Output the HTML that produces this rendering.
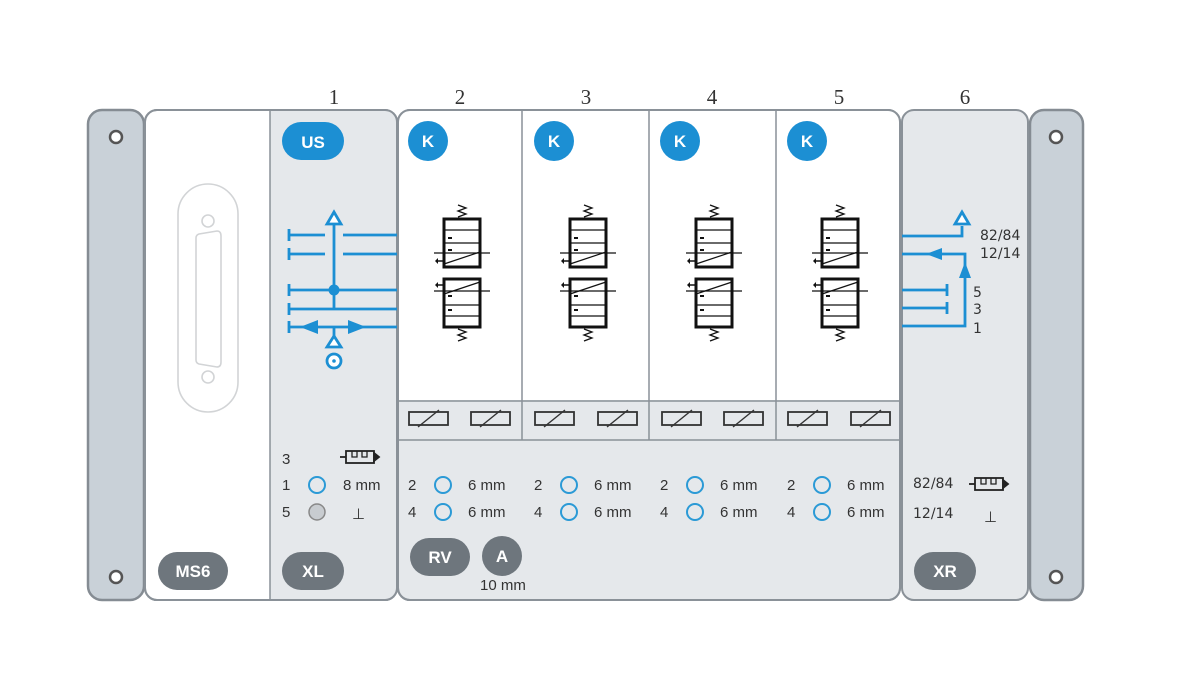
<!DOCTYPE html>
<html><head><meta charset="utf-8"><style>
html,body{margin:0;padding:0;background:#fff;}
svg{display:block;}
text{font-family:"Liberation Sans",sans-serif;}
</style></head><body>
<svg width="1181" height="700" viewBox="0 0 1181 700" xmlns="http://www.w3.org/2000/svg">
<defs>
<g id="valve" fill="none" stroke="#111">
  <rect x="-18" y="219" width="36" height="48" stroke-width="3"/>
  <line x1="-18" y1="230" x2="18" y2="230" stroke-width="1.2"/>
  <line x1="-18" y1="243" x2="18" y2="243" stroke-width="1.2"/>
  <line x1="-18" y1="264" x2="18" y2="252" stroke-width="1.2"/>
  <line x1="-28" y1="253" x2="28" y2="253" stroke-width="1.2"/>
  <path d="M-14 238h4M-14 250h4" stroke-width="2"/>
  <path d="M-26 261h8" stroke-width="1.5"/><path d="M-27 261l3-3v6z" fill="#111" stroke="none"/>
  <path d="M-4 205l8 3-8 3 8 3-8 3" stroke-width="1.3"/>
  <rect x="-18" y="279" width="36" height="48" stroke-width="3"/>
  <line x1="-18" y1="305" x2="18" y2="305" stroke-width="1.2"/>
  <line x1="-18" y1="316" x2="18" y2="316" stroke-width="1.2"/>
  <line x1="-18" y1="294" x2="18" y2="282" stroke-width="1.2"/>
  <line x1="-28" y1="291" x2="28" y2="291" stroke-width="1.2"/>
  <path d="M-14 296h4M-14 310h4" stroke-width="2"/>
  <path d="M-26 285h8" stroke-width="1.5"/><path d="M-27 285l3-3v6z" fill="#111" stroke="none"/>
  <path d="M-4 329l8 3-8 3 8 3-8 3" stroke-width="1.3"/>
</g>
<g id="sol" fill="none" stroke="#333" stroke-width="1.8">
  <rect x="0" y="0" width="39" height="13"/>
  <path d="M9 15 L30 -2" stroke-width="1.4"/>
</g>
<g id="muff" fill="none" stroke="#222" stroke-width="1.8">
  <path d="M0 0h6"/><rect x="6" y="-6" width="28" height="12"/>
  <path d="M12 -6v6h5v-6M22 -6v6h5v-6" stroke-width="1.3"/>
  <path d="M34 -4l5 4-5 4z" fill="#222"/>
</g>
<circle id="port" r="8" fill="none" stroke="#2b9ad6" stroke-width="2"/>
</defs>

<!-- numbers -->
<g font-size="21" fill="#333" text-anchor="middle" font-family="Liberation Serif,serif">
<text x="334" y="104" style="font-family:'Liberation Serif',serif">1</text>
<text x="460" y="104" style="font-family:'Liberation Serif',serif">2</text>
<text x="586" y="104" style="font-family:'Liberation Serif',serif">3</text>
<text x="712" y="104" style="font-family:'Liberation Serif',serif">4</text>
<text x="839" y="104" style="font-family:'Liberation Serif',serif">5</text>
<text x="965" y="104" style="font-family:'Liberation Serif',serif">6</text>
</g>

<!-- end plates -->
<rect x="88" y="110" width="56" height="490" rx="14" fill="#c9d1d8" stroke="#858c93" stroke-width="2.5"/>
<circle cx="116" cy="137" r="6" fill="#fff" stroke="#555" stroke-width="2.5"/>
<circle cx="116" cy="577" r="6" fill="#fff" stroke="#555" stroke-width="2.5"/>
<rect x="1030" y="110" width="53" height="490" rx="14" fill="#c9d1d8" stroke="#858c93" stroke-width="2.5"/>
<circle cx="1056" cy="137" r="6" fill="#fff" stroke="#555" stroke-width="2.5"/>
<circle cx="1056" cy="577" r="6" fill="#fff" stroke="#555" stroke-width="2.5"/>

<!-- MS6 + panel 1 -->
<rect x="145" y="110" width="252" height="490" rx="12" fill="#fff" stroke="#8a9198" stroke-width="2"/>
<path d="M270 111 H385 Q396 111 396 122 V588 Q396 599 385 599 H270 Z" fill="#e5e8eb"/>
<line x1="270" y1="110" x2="270" y2="600" stroke="#8a9198" stroke-width="1.5"/>
<rect x="145" y="110" width="252" height="490" rx="12" fill="none" stroke="#8a9198" stroke-width="2"/>
<g fill="none" stroke="#d2d4d6" stroke-width="1.6">
<rect x="178" y="184" width="60" height="228" rx="30"/>
<circle cx="208" cy="221" r="6"/><circle cx="208" cy="377" r="6"/>
<path d="M199 234 L217 231 Q221 231 221 236 V362 Q221 367 217 367 L199 364 Q196 363 196 360 V238 Q196 235 199 234Z"/>
</g>

<!-- valve section -->
<rect x="398" y="110" width="502" height="490" rx="12" fill="#e5e8eb" stroke="#8a9198" stroke-width="2"/>
<path d="M399 122 Q399 111 410 111 H888 Q899 111 899 122 V400 H399Z" fill="#fff"/>
<line x1="398" y1="401" x2="900" y2="401" stroke="#8a9198" stroke-width="1.5"/>
<line x1="398" y1="440" x2="900" y2="440" stroke="#8a9198" stroke-width="1.5"/>
<g stroke="#8a9198" stroke-width="1.5">
<line x1="522" y1="111" x2="522" y2="440"/><line x1="649" y1="111" x2="649" y2="440"/><line x1="776" y1="111" x2="776" y2="440"/>
</g>
<rect x="398" y="110" width="502" height="490" rx="12" fill="none" stroke="#8a9198" stroke-width="2"/>

<!-- panel 6 -->
<rect x="902" y="110" width="126" height="490" rx="12" fill="#e5e8eb" stroke="#8a9198" stroke-width="2"/>

<!-- K badges and valves -->
<g>
<circle cx="428" cy="141" r="20" fill="#1c8fd3"/><circle cx="554" cy="141" r="20" fill="#1c8fd3"/>
<circle cx="680" cy="141" r="20" fill="#1c8fd3"/><circle cx="807" cy="141" r="20" fill="#1c8fd3"/>
<g fill="#fff" font-size="17" font-weight="bold" text-anchor="middle">
<text x="428" y="147">K</text><text x="554" y="147">K</text><text x="680" y="147">K</text><text x="807" y="147">K</text>
</g>
<use href="#valve" x="462"/><use href="#valve" x="588"/><use href="#valve" x="714"/><use href="#valve" x="840"/>
<use href="#sol" x="409" y="412"/><use href="#sol" x="471" y="412"/>
<use href="#sol" x="535" y="412"/><use href="#sol" x="598" y="412"/>
<use href="#sol" x="662" y="412"/><use href="#sol" x="724" y="412"/>
<use href="#sol" x="788" y="412"/><use href="#sol" x="851" y="412"/>
</g>

<!-- US badge -->
<rect x="282" y="122" width="62" height="38" rx="19" fill="#1c8fd3"/>
<text x="313" y="148" fill="#fff" font-size="17" font-weight="bold" text-anchor="middle">US</text>

<!-- blue panel 1 -->
<g stroke="#1c8fd3" stroke-width="2.8" fill="none">
<path d="M289 235H325M343 235H397M289 254H325M343 254H397M289 290H397M289 309H397M289 327H397"/>
<path d="M289 229v12M289 248v12M289 284v12M289 303v12M289 321v12"/>
<path d="M334 224V309"/>
<path d="M334 212l-7 12h14z" fill="#fff"/>
<path d="M334 327V336"/>
<path d="M334 336l-7 11h14z" fill="#fff"/>
<circle cx="334" cy="361" r="7" fill="#fff"/>
</g>
<circle cx="334" cy="361" r="1.8" fill="#1c8fd3"/>
<circle cx="334" cy="290" r="5.5" fill="#1c8fd3"/>
<path d="M300 327l18-7v14z M366 327l-18-7v14z" fill="#1c8fd3"/>

<!-- blue panel 6 -->
<g stroke="#1c8fd3" stroke-width="2.8" fill="none">
<path d="M902 236H962V226"/>
<path d="M962 212l-7 12h14z" fill="#fff"/>
<path d="M902 254H965V326H902"/>
<path d="M902 290H947M902 308H947M947 284v12M947 302v12"/>
</g>
<path d="M926 254l16-6v12z M965 262l-6 16h12z" fill="#1c8fd3"/>
<g fill="#333" font-size="14" style="font-family:'DejaVu Sans',sans-serif">
<text x="980" y="240" style="font-family:'DejaVu Sans',sans-serif">82/84</text>
<text x="980" y="258" style="font-family:'DejaVu Sans',sans-serif">12/14</text>
<text x="973" y="297" style="font-family:'DejaVu Sans',sans-serif">5</text>
<text x="973" y="314" style="font-family:'DejaVu Sans',sans-serif">3</text>
<text x="973" y="333" style="font-family:'DejaVu Sans',sans-serif">1</text>
</g>

<!-- bottom panel 1 -->
<g fill="#333" font-size="15">
<text x="282" y="464">3</text><text x="282" y="490">1</text><text x="282" y="517">5</text>
<text x="343" y="490">8 mm</text>
<text x="352" y="519">⊥</text>
</g>
<use href="#muff" x="340" y="457"/>
<use href="#port" x="317" y="485"/>
<circle cx="317" cy="512" r="8" fill="#c8ccd0" stroke="#888" stroke-width="1.5"/>

<!-- valve ports -->
<g fill="#333" font-size="15">
<text x="408" y="490">2</text><text x="408" y="517">4</text><text x="468" y="490">6 mm</text><text x="468" y="517">6 mm</text>
<text x="534" y="490">2</text><text x="534" y="517">4</text><text x="594" y="490">6 mm</text><text x="594" y="517">6 mm</text>
<text x="660" y="490">2</text><text x="660" y="517">4</text><text x="720" y="490">6 mm</text><text x="720" y="517">6 mm</text>
<text x="787" y="490">2</text><text x="787" y="517">4</text><text x="847" y="490">6 mm</text><text x="847" y="517">6 mm</text>
<text x="480" y="590">10 mm</text>
</g>
<use href="#port" x="443" y="485"/><use href="#port" x="443" y="512"/>
<use href="#port" x="569" y="485"/><use href="#port" x="569" y="512"/>
<use href="#port" x="695" y="485"/><use href="#port" x="695" y="512"/>
<use href="#port" x="822" y="485"/><use href="#port" x="822" y="512"/>

<!-- panel 6 bottom -->
<g fill="#333" font-size="14">
<text x="913" y="488" style="font-family:'DejaVu Sans',sans-serif">82/84</text>
<text x="913" y="518" style="font-family:'DejaVu Sans',sans-serif">12/14</text>
<text x="984" y="522" font-size="15">⊥</text>
</g>
<use href="#muff" x="969" y="484"/>

<!-- gray pills -->
<g fill="#6e767d">
<rect x="158" y="552" width="70" height="38" rx="19"/>
<rect x="282" y="552" width="62" height="38" rx="19"/>
<rect x="410" y="538" width="60" height="38" rx="19"/>
<circle cx="502" cy="556" r="20"/>
<rect x="914" y="552" width="62" height="38" rx="19"/>
</g>
<g fill="#fff" font-size="17" font-weight="bold" text-anchor="middle">
<text x="193" y="577">MS6</text><text x="313" y="577">XL</text><text x="440" y="563">RV</text>
<text x="502" y="562">A</text><text x="945" y="577">XR</text>
</g>
</svg>
</body></html>
